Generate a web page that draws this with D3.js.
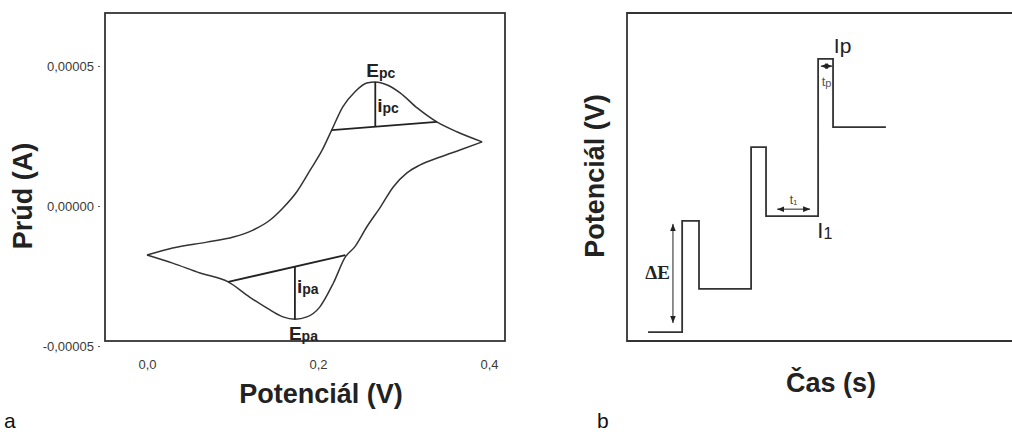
<!DOCTYPE html>
<html>
<head>
<meta charset="utf-8">
<script src="https://cdn.jsdelivr.net/npm/d3@7"></script>
<style>
  html, body { margin: 0; padding: 0; background: #fff; }
  svg { display: block; }
</style>
</head>
<body>
<svg id="chart" width="1012" height="434" font-family="Liberation Sans, Arial, sans-serif"></svg>
<script>
// ---------- Panel a: cyclic voltammogram ----------
// Upper branch (left vertex -> right vertex), potential in V, current in A
const cvUpperPotential = [0.000, 0.030, 0.070, 0.101, 0.124, 0.144, 0.159, 0.175, 0.191, 0.205, 0.216, 0.229, 0.243, 0.257, 0.267, 0.281, 0.296, 0.316, 0.339, 0.363, 0.392];
const cvUpperCurrent   = [-17.5e-6, -15.0e-6, -12.9e-6, -11.1e-6, -8.6e-6, -5.0e-6, -0.7e-6, 5.0e-6, 12.9e-6, 20.0e-6, 27.1e-6, 35.4e-6, 40.7e-6, 43.9e-6, 44.3e-6, 43.2e-6, 40.4e-6, 35.0e-6, 30.0e-6, 26.4e-6, 22.9e-6];
// Lower branch (left vertex -> right vertex)
const cvLowerPotential = [0.000, 0.030, 0.062, 0.095, 0.120, 0.140, 0.159, 0.173, 0.187, 0.202, 0.218, 0.232, 0.243, 0.257, 0.273, 0.288, 0.304, 0.319, 0.343, 0.366, 0.392];
const cvLowerCurrent   = [-17.5e-6, -20.4e-6, -23.9e-6, -27.1e-6, -32.5e-6, -36.4e-6, -39.6e-6, -40.4e-6, -39.6e-6, -36.1e-6, -27.5e-6, -18.2e-6, -14.6e-6, -7.5e-6, -0.4e-6, 6.8e-6, 11.8e-6, 14.6e-6, 17.5e-6, 20.0e-6, 22.9e-6];
// Baselines and peak heights
const cathodicBaselineE = [0.216, 0.339];
const cathodicBaselineI = [27.1e-6, 30.0e-6];
const cathodicPeakE = 0.267, cathodicPeakI = 44.3e-6, cathodicPeakBaseI = 28.3e-6;
const anodicBaselineE = [0.095, 0.232];
const anodicBaselineI = [-27.1e-6, -17.5e-6];
const anodicPeakE = 0.173, anodicPeakI = -40.4e-6, anodicPeakBaseI = -21.6e-6;

const xTicksA = [0.0, 0.2, 0.4];
const xTickLabelsA = ["0,0", "0,2", "0,4"];
const yTicksA = [0.00005, 0.0, -0.00005];
const yTickLabelsA = ["0,00005", "0,00000", "-0,00005"];

// ---------- Panel b: pulse waveform (arbitrary units) ----------
const pulseTime      = [5.5, 14.4, 18.8, 32.4, 36.3, 49.9, 53.8, 67.6];
const pulsePotential = [2.7, 36.6, 15.9, 59.1, 38.1, 86.0, 65.2, 65.2];
// annotation arrows [x1, y1, x2, y2] in data units
const arrowDeltaE = [12.0, 35.7, 12.0, 5.5];
const arrowT1     = [39.2, 40.2, 47.8, 40.2];
const arrowTp     = [50.6, 83.8, 53.6, 83.8];

const svg = d3.select("#chart");
const ink = "#333";
const SANS = "Liberation Sans, Arial, sans-serif";

// defs: arrow markers
const defs = svg.append("defs");
defs.append("marker").attr("id", "ah").attr("viewBox", "0 0 10 10")
  .attr("refX", 10).attr("refY", 5).attr("markerWidth", 7).attr("markerHeight", 7)
  .attr("orient", "auto-start-reverse").attr("markerUnits", "userSpaceOnUse")
  .append("path").attr("d", "M0,1 L10,5 L0,9 Z").attr("fill", "#222");

// ================= PANEL A =================
const xA = d3.scaleLinear().domain([-0.0491, 0.4187]).range([105, 505]);
const yA = d3.scaleLinear().domain([-0.0000482, 0.0000689]).range([341, 13]);

const gA = svg.append("g");
gA.append("rect").attr("x", 105).attr("y", 13).attr("width", 400).attr("height", 328)
  .attr("fill", "none").attr("stroke", "#333").attr("stroke-width", 1.8);

const yAxisA = d3.axisLeft(yA).tickValues(yTicksA)
  .tickFormat((d, i) => yTickLabelsA[i]).tickSize(2).tickPadding(4);
const gy = gA.append("g").attr("transform", "translate(100,0)").call(yAxisA);
gy.attr("font-family", SANS).attr("font-size", 13);
gy.select(".domain").remove();
gy.selectAll("line").attr("stroke", "#555");
gy.selectAll("text").attr("fill", "#3a3a3a");

const xAxisA = d3.axisBottom(xA).tickValues(xTicksA)
  .tickFormat((d, i) => xTickLabelsA[i]).tickSize(0).tickPadding(0);
const gx = gA.append("g").attr("transform", "translate(0,360)").call(xAxisA);
gx.attr("font-family", SANS).attr("font-size", 13);
gx.select(".domain").remove();
gx.selectAll("text").attr("fill", "#3a3a3a");

const lineA = d3.line().x(d => xA(d[0])).y(d => yA(d[1])).curve(d3.curveMonotoneX);
const upper = cvUpperPotential.map((v, i) => [v, cvUpperCurrent[i]]);
const lower = cvLowerPotential.map((v, i) => [v, cvLowerCurrent[i]]);
gA.append("path").attr("d", lineA(upper)).attr("fill", "none").attr("stroke", ink).attr("stroke-width", 1.5);
gA.append("path").attr("d", lineA(lower)).attr("fill", "none").attr("stroke", ink).attr("stroke-width", 1.5);

// baselines
function seg(g, x1, y1, x2, y2) {
  g.append("line").attr("x1", x1).attr("y1", y1).attr("x2", x2).attr("y2", y2)
    .attr("stroke", "#222").attr("stroke-width", 1.8);
}
seg(gA, xA(cathodicBaselineE[0]), yA(cathodicBaselineI[0]), xA(cathodicBaselineE[1]), yA(cathodicBaselineI[1]));
seg(gA, xA(cathodicPeakE), yA(cathodicPeakI), xA(cathodicPeakE), yA(cathodicPeakBaseI));
seg(gA, xA(anodicBaselineE[0]), yA(anodicBaselineI[0]), xA(anodicBaselineE[1]), yA(anodicBaselineI[1]));
seg(gA, xA(anodicPeakE), yA(anodicPeakI), xA(anodicPeakE), yA(anodicPeakBaseI));

function subLabel(g, x, y, main, sub, mainSize, subSize, weight, anchor, family) {
  const t = g.append("text").attr("x", x).attr("y", y).attr("fill", "#222")
    .attr("font-family", family || SANS)
    .attr("font-weight", weight).attr("text-anchor", anchor || "start");
  t.append("tspan").attr("font-size", mainSize).text(main);
  t.append("tspan").attr("font-size", subSize).attr("dy", 1).text(sub);
  return t;
}
subLabel(gA, xA(cathodicPeakE) - 9, yA(cathodicPeakI) - 5, "E", "pc", 19, 14, "bold");
subLabel(gA, xA(cathodicPeakE) + 2, yA(cathodicPeakI) + 30, "i", "pc", 19, 14, "bold");
subLabel(gA, xA(anodicPeakE) + 2, yA(anodicPeakI) - 26, "i", "pa", 19, 14, "bold");
subLabel(gA, xA(anodicPeakE) - 6, yA(anodicPeakI) + 21, "E", "pa", 19, 14, "bold");

gA.append("text").attr("x", 321).attr("y", 403).attr("text-anchor", "middle").attr("font-family", SANS)
  .attr("font-size", 27).attr("font-weight", "bold").attr("fill", "#222").text("Potenciál (V)");
gA.append("text").attr("transform", "translate(32,196) rotate(-90)").attr("text-anchor", "middle").attr("font-family", SANS)
  .attr("font-size", 27).attr("font-weight", "bold").attr("fill", "#222").text("Prúd (A)");
gA.append("text").attr("x", 4).attr("y", 428).attr("font-family", SANS).attr("font-size", 21).attr("fill", "#111").text("a");

// ================= PANEL B =================
const xB = d3.scaleLinear().domain([0, 100]).range([627, 1010]);
const yB = d3.scaleLinear().domain([0, 100]).range([341, 13]);
const gB = svg.append("g");
gB.append("path").attr("d", `M1014,${yB(100)} H${xB(0)} V${yB(0)} H1014`)
  .attr("fill", "none").attr("stroke", "#333").attr("stroke-width", 1.8);

const lineB = d3.line().x(d => xB(d[0])).y(d => yB(d[1])).curve(d3.curveStepAfter);
gB.append("path").attr("d", lineB(pulseTime.map((t, i) => [t, pulsePotential[i]])))
  .attr("fill", "none").attr("stroke", ink).attr("stroke-width", 1.8);

function dblArrow(a) {
  gB.append("line").attr("x1", xB(a[0])).attr("y1", yB(a[1])).attr("x2", xB(a[2])).attr("y2", yB(a[3]))
    .attr("stroke", "#222").attr("stroke-width", 1)
    .attr("marker-start", "url(#ah)").attr("marker-end", "url(#ah)");
}
dblArrow(arrowDeltaE);
dblArrow(arrowT1);
dblArrow(arrowTp);

gB.append("text").attr("x", xB(arrowDeltaE[0]) - 3).attr("y", yB(18.9)).attr("text-anchor", "end")
  .attr("font-family", "Liberation Serif, Times New Roman, serif").attr("font-weight", "bold")
  .attr("font-size", 19).attr("fill", "#222").text("ΔE");
subLabel(gB, xB((arrowT1[0] + arrowT1[2]) / 2), yB(41.8), "t", "1", 12, 8, "normal", "middle").attr("fill", "#444");
subLabel(gB, xB((arrowTp[0] + arrowTp[2]) / 2), yB(77.6), "t", "p", 13, 11, "normal", "middle").attr("fill", "#555");
subLabel(gB, xB(49.7), yB(31.4), "I", "1", 22, 16, "normal");
gB.append("text").attr("x", xB(54.0)).attr("y", yB(87.8)).attr("font-family", SANS)
  .attr("font-size", 21).attr("fill", "#222").text("Ip");

gB.append("text").attr("x", 831).attr("y", 392).attr("text-anchor", "middle").attr("font-family", SANS)
  .attr("font-size", 27).attr("font-weight", "bold").attr("fill", "#222").text("Čas (s)");
gB.append("text").attr("transform", "translate(604,176) rotate(-90)").attr("text-anchor", "middle").attr("font-family", SANS)
  .attr("font-size", 27).attr("font-weight", "bold").attr("fill", "#222").text("Potenciál (V)");
gB.append("text").attr("x", 597).attr("y", 428).attr("font-family", SANS).attr("font-size", 21).attr("fill", "#111").text("b");
</script>
</body>
</html>
